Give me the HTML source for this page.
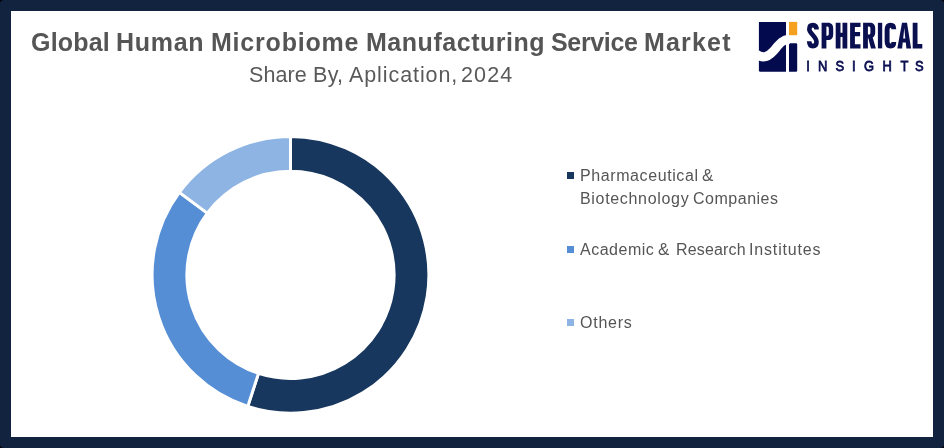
<!DOCTYPE html>
<html><head><meta charset="utf-8">
<style>
html,body{margin:0;padding:0;}
body{width:944px;height:448px;background:#000;position:relative;overflow:hidden;font-family:"Liberation Sans",sans-serif;}
#frame{position:absolute;left:0;top:0;width:944px;height:448px;background:#12233f;border-radius:4px;}
#inner{position:absolute;left:11px;top:11px;width:922px;height:426px;background:#fff;}
.t{position:absolute;white-space:nowrap;color:#555;line-height:1;will-change:transform;}
.tt{font-size:25px;font-weight:bold;color:#555555;}
.ts{font-size:21.5px;color:#595959;}
.lg{font-size:16px;color:#555555;}
.sq{position:absolute;width:7px;height:7px;}
</style></head><body>
<div id="frame"></div><div id="inner"></div>
<!--T-->
<div class="t tt" style="left:30.57px;top:29.64px;letter-spacing:0.185px">Global</div>
<div class="t tt" style="left:116.23px;top:29.64px;letter-spacing:0.714px">Human</div>
<div class="t tt" style="left:211.43px;top:29.64px;letter-spacing:0.792px">Microbiome</div>
<div class="t tt" style="left:365.93px;top:29.64px;letter-spacing:0.534px">Manufacturing</div>
<div class="t tt" style="left:551.0px;top:29.64px;letter-spacing:-0.351px">Service</div>
<div class="t tt" style="left:644.23px;top:29.64px;letter-spacing:1.182px">Market</div>
<div class="t ts" style="left:249.38px;top:64.5px;letter-spacing:0.077px">Share</div>
<div class="t ts" style="left:312.94px;top:64.5px;letter-spacing:0.314px">By,</div>
<div class="t ts" style="left:348.53px;top:64.5px;letter-spacing:0.907px">Aplication,</div>
<div class="t ts" style="left:461.21px;top:64.5px;letter-spacing:1.139px">2024</div>
<div class="t lg" style="left:580.17px;top:167.76px;letter-spacing:0.592px">Pharmaceutical</div>
<div class="t lg" style="left:702.26px;top:167.41px;font-size:17.0px">&amp;</div>
<div class="t lg" style="left:580.17px;top:190.96px;letter-spacing:0.679px">Biotechnology</div>
<div class="t lg" style="left:692.84px;top:190.96px;letter-spacing:0.51px">Companies</div>
<div class="t lg" style="left:580.26px;top:241.66px;letter-spacing:0.516px">Academic</div>
<div class="t lg" style="left:658.36px;top:241.31px;font-size:17.0px">&amp;</div>
<div class="t lg" style="left:675.57px;top:241.66px;letter-spacing:0.153px">Research</div>
<div class="t lg" style="left:749.2px;top:241.66px;letter-spacing:0.836px">Institutes</div>
<div class="t lg" style="left:579.99px;top:315.06px;letter-spacing:0.767px">Others</div>
<!--/T-->
<svg style="position:absolute;left:0;top:0;will-change:transform" width="944" height="448" viewBox="0 0 944 448">
<g id="donut">
<path d="M290.50 136.45A138.4 138.4 0 1 1 247.73 406.48L258.49 373.38A103.6 103.6 0 1 0 290.50 171.25Z" fill="#17375e" stroke="#fff" stroke-width="3" stroke-linejoin="miter"/>
<path d="M247.73 406.48A138.4 138.4 0 0 1 179.39 192.33L207.33 213.08A103.6 103.6 0 0 0 258.49 373.38Z" fill="#558ed5" stroke="#fff" stroke-width="3" stroke-linejoin="miter"/>
<path d="M179.39 192.33A138.4 138.4 0 0 1 290.50 136.45L290.50 171.25A103.6 103.6 0 0 0 207.33 213.08Z" fill="#8eb4e3" stroke="#fff" stroke-width="3" stroke-linejoin="miter"/>
</g>
<g id="logo">
<g id="mark">
<path d="M758.9 21.9H786V71.7H760.4Q758.9 71.7 758.9 70.2Z" fill="#040a4e"/>
<path d="M789 44.4Q789 43.2 790.2 43.2H796Q797.2 43.2 797.2 44.4V70.5Q797.2 71.7 796 71.7H789Z" fill="#040a4e"/>
<rect x="789" y="21.9" width="8.2" height="13.3" fill="#f5a11f"/>
<path d="M756 54C762 58.4 767.5 57.8 773.5 51C779 44.6 781.5 39.8 789.5 39.1" fill="none" stroke="#fff" stroke-width="9"/>
</g>
<g id="sph" fill="#0a0f50">
<path d="M816.5 29.6C816.5 26.3 815.2 25.1 812.9 25.1C810.6 25.1 809.3 26.6 809.3 29.2C809.3 33.4 816.5 36.6 816.5 42C816.5 44.8 815.1 46.1 812.8 46.1C810.5 46.1 809.3 44.6 809.2 41.2" fill="none" stroke="#0a0f50" stroke-width="4.6"/>
<path fill-rule="evenodd" d="M821.6 22.8H828C831.5 22.8 833.2 25 833.2 28.5V34.2C833.2 38 831.5 40 828 40H826.4V48.4H821.6ZM826.4 26.5H827.3C828.4 26.5 828.8 27.4 828.8 28.8V33.6C828.8 35 828.3 35.8 827.3 35.8H826.4Z"/>
<path d="M835.7 22.8H840.5V32.8H842.5V22.8H847.3V48.4H842.5V37H840.5V48.4H835.7Z"/>
<path d="M850.1 22.8H860.5V27H854.9V32H860.1V36.2H854.9V44.2H860.5V48.4H850.1Z"/>
<path fill-rule="evenodd" d="M863.1 22.8H869.7C873.4 22.8 875.2 24.8 875.2 28.3V32.5C875.2 35 874.3 36.6 872.7 37.4L875.9 48.4H871L868.3 38.3H867.9V48.4H863.1ZM867.9 26.5H868.9C870 26.5 870.4 27.3 870.4 28.6V32.4C870.4 33.7 869.9 34.5 868.9 34.5H867.9Z"/>
<rect x="877.9" y="22.8" width="4.3" height="25.6"/>
<path d="M893.8 29.2C893.8 26.3 892.7 25.2 890.6 25.2C888.3 25.2 887.1 26.9 887.1 30V41.2C887.1 44.3 888.3 46 890.6 46C892.7 46 893.8 44.9 893.8 42" fill="none" stroke="#0a0f50" stroke-width="4.9"/>
<path fill-rule="evenodd" d="M902 22.8H907L911.1 48.4H906.4L905.8 42.4H902.7L902.1 48.4H897.3ZM904.3 28L903.2 38.6H905.3Z"/>
<path d="M912.7 22.8H917.5V44.1H922.3V48.4H912.7Z"/>
</g>
<g font-family="Liberation Sans, sans-serif" font-size="15.2" fill="#0a0f50" stroke="#0a0f50" stroke-width="0.8" text-anchor="middle" transform="scale(0.85,1)" opacity="0.999">
<text y="71.2" x="950.6 967.9 988.1 1004.5 1022.4 1043.8 1064.1 1081.5">INSIGHTS</text>
</g>
</g>
</svg>
<div class="sq" style="left:567px;top:172px;background:#17375e"></div>
<div class="sq" style="left:567px;top:246px;background:#558ed5"></div>
<div class="sq" style="left:567px;top:319px;background:#8eb4e3"></div>
</body></html>
